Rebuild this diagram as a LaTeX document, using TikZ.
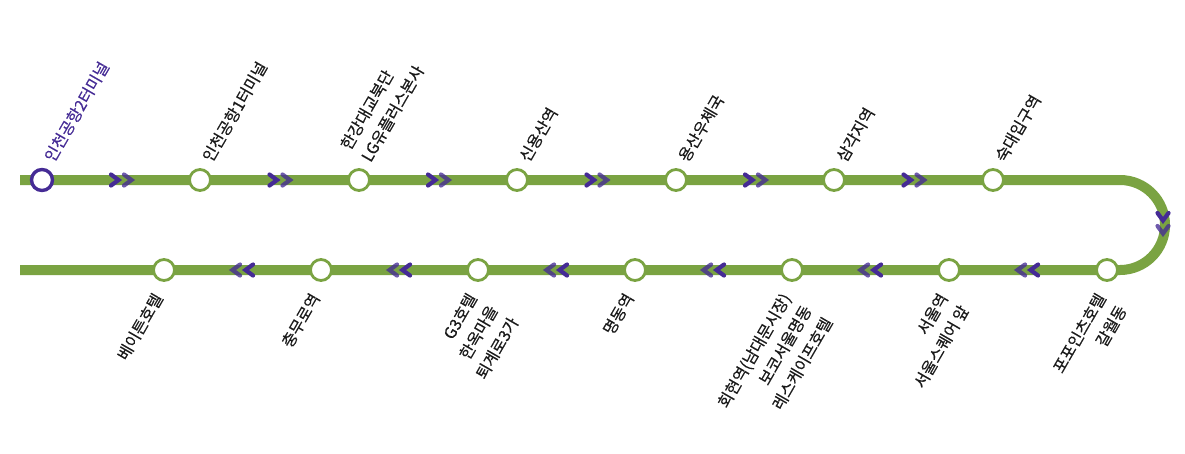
\documentclass[tikz,border=0pt]{standalone}
\usepackage{fontspec}
\setmainfont{Noto Sans CJK KR}[RawFeature={embolden=0.35}]
\definecolor{linegreen}{HTML}{7AA342}
\definecolor{startpurple}{HTML}{452B95}
\definecolor{labeldark}{HTML}{1A1A1A}
\tikzset{
  station/.style={circle,draw=linegreen,fill=white,line width=2.8pt,minimum size=21pt,inner sep=0pt,outer sep=0pt},
  startstation/.style={station,draw=startpurple,line width=3.4pt},
  track/.style={draw=linegreen,line width=10pt},
  chev/.style={draw=startpurple,line width=4.2pt,line cap=round,line join=miter},
  chevlight/.style={chev,opacity=.78},
  uplabel/.style={rotate=60,anchor=south west,font=\fontsize{16}{24}\selectfont,align=left,inner sep=0pt,text=labeldark},
  downlabel/.style={rotate=60,anchor=north east,font=\fontsize{16}{24}\selectfont,align=right,inner sep=0pt,text=labeldark},
  chevpair/.pic={
    \draw[chev] (-10,-5.5) -- (-2.5,0) -- (-10,5.5);
    \draw[chevlight] (3,-5.5) -- (10.5,0) -- (3,5.5);
  }
}
\begin{document}
\begin{tikzpicture}[x=1pt,y=-1pt]
\useasboundingbox (0,0) rectangle (1185,453);
\coordinate (lstart) at (20,180);
\coordinate (lend) at (20,270);
\coordinate (bendA) at (1120,180);
% track first, stations on top
\path (42,180) coordinate (p1) (200,180) coordinate (p2) (359,180) coordinate (p3)
      (517,180) coordinate (p4) (676,180) coordinate (p5) (834,180) coordinate (p6)
      (993,180) coordinate (p7) (1107,270) coordinate (p8) (949,270) coordinate (p9)
      (792,270) coordinate (p10) (635,270) coordinate (p11) (478,270) coordinate (p12)
      (321,270) coordinate (p13) (164,270) coordinate (p14);
\draw[track] (lstart) -- (bendA) arc[start angle=-90,end angle=90,radius=45] -- (lend);
% stations
\node[startstation] (s1) at (p1) {};
\node[station] (s2) at (p2) {};
\node[station] (s3) at (p3) {};
\node[station] (s4) at (p4) {};
\node[station] (s5) at (p5) {};
\node[station] (s6) at (p6) {};
\node[station] (s7) at (p7) {};
\node[station] (s8) at (p8) {};
\node[station] (s9) at (p9) {};
\node[station] (s10) at (p10) {};
\node[station] (s11) at (p11) {};
\node[station] (s12) at (p12) {};
\node[station] (s13) at (p13) {};
\node[station] (s14) at (p14) {};
% direction marks
\pic at (121,180) {chevpair};
\pic at (279.5,180) {chevpair};
\pic at (438,180) {chevpair};
\pic at (596.5,180) {chevpair};
\pic at (755,180) {chevpair};
\pic at (913.5,180) {chevpair};
\pic[rotate=-90] at (1163,223) {chevpair};
\pic[rotate=180] at (1028,270) {chevpair};
\pic[rotate=180] at (871,270) {chevpair};
\pic[rotate=180] at (714,270) {chevpair};
\pic[rotate=180] at (557,270) {chevpair};
\pic[rotate=180] at (400,270) {chevpair};
\pic[rotate=180] at (243,270) {chevpair};
% labels
\node[uplabel,text=startpurple] (t1) at (55,164) {인천공항2터미널};
\node[uplabel] (t2) at (213,164) {인천공항1터미널};
\node[uplabel] (t3) at (372,164) {한강대교북단\\LG유플러스본사};
\node[uplabel] (t4) at (530,164) {신용산역};
\node[uplabel] (t5) at (689,164) {용산우체국};
\node[uplabel] (t6) at (847,164) {삼각지역};
\node[uplabel] (t7) at (1006,164) {숙대입구역};
\node[downlabel] (t8) at (1095,291) {포포인츠호텔\\갈월동};
\node[downlabel] (t9) at (937,291) {서울역\\서울스퀘어 앞};
\node[downlabel] (t10) at (780,291) {회현역(남대문시장)\\보코서울명동\\레스케이프호텔};
\node[downlabel] (t11) at (623,291) {명동역};
\node[downlabel] (t12) at (466,291) {G3호텔\\한옥마을\\퇴계로3가};
\node[downlabel] (t13) at (309,291) {충무로역};
\node[downlabel] (t14) at (152,291) {베이튼호텔};
\end{tikzpicture}
\end{document}
